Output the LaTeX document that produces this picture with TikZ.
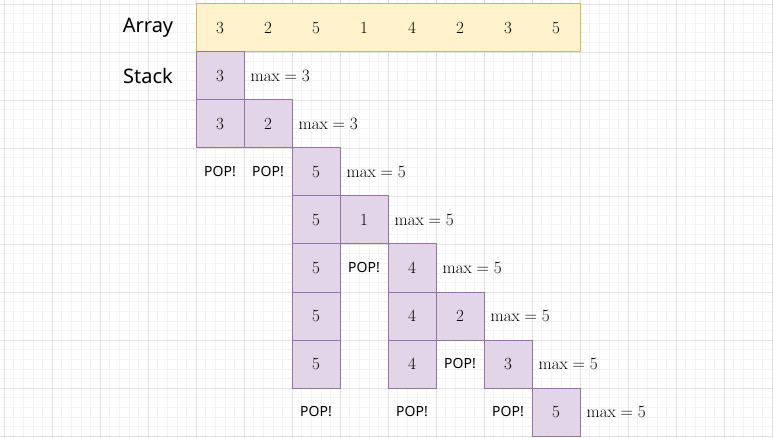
\documentclass[tikz,border=0pt]{standalone}
\usepackage{fontspec}
\newfontfamily\labelfont{Noto Sans}
\definecolor{pfill}{HTML}{E1D5E7}
\definecolor{pdraw}{HTML}{9673A6}
\definecolor{yfill}{HTML}{FFF2CC}
\definecolor{ydraw}{HTML}{D6B656}
\definecolor{gminor}{HTML}{F3F3F3}
\definecolor{gmajor}{HTML}{E2E2E2}
\tikzset{
  cellp/.style={rectangle, draw=pdraw, fill=pfill, line width=1pt, minimum width=48pt, minimum height=48pt, inner sep=0pt, font=\fontsize{17}{20}\selectfont},
  arrbox/.style={rectangle, draw=ydraw, fill=yfill, line width=1pt, minimum width=384pt, minimum height=48pt, inner sep=0pt},
  arrnum/.style={inner sep=0pt, font=\fontsize{17}{20}\selectfont},
  maxlab/.style={anchor=west, inner sep=0pt, xshift=6pt, font=\fontsize{17}{20}\selectfont},
  poplab/.style={inner sep=0pt, font=\labelfont\fontsize{14}{16}\selectfont},
  title/.style={inner sep=0pt, font=\labelfont\fontsize{20}{24}\selectfont}
}
\begin{document}
\begin{tikzpicture}[x=1pt,y=-1pt]
\useasboundingbox (0,0) rectangle (773,438);
\fill[white] (0,0) rectangle (773,438);
\foreach \k in {0,...,80} \draw[gminor, line width=0.6pt] ({4+9.6*\k},0) -- ({4+9.6*\k},438);
\foreach \k in {0,...,45} \draw[gminor, line width=0.6pt] (0,{4+9.6*\k}) -- (773,{4+9.6*\k});
\foreach \k in {0,...,16} \draw[gmajor, line width=0.8pt] ({4+48*\k},0) -- ({4+48*\k},438);
\foreach \k in {0,...,9} \draw[gmajor, line width=0.8pt] (0,{4+48*\k}) -- (773,{4+48*\k});

\node[title] (tarr) at (148,28) {Array};
\node[title] (tstk) at (148,76) {Stack};

\node[arrbox] (arr) at (388,28) {};
\foreach \v [count=\i from 0] in {3,2,5,1,4,2,3,5}
  \node[arrnum] (a\i) at ({220+48*\i},28) {\v};

% row 1
\node[cellp] (r1c0) at (220,76) {3};
\node[maxlab] (m1) at (r1c0.east) {$\mathrm{max}=3$};
% row 2
\node[cellp] (r2c0) at (220,124) {3};
\node[cellp] (r2c1) at (268,124) {2};
\node[maxlab] (m2) at (r2c1.east) {$\mathrm{max}=3$};
% row 3
\node[poplab] (p3a) at (220,172) {POP!};
\node[poplab] (p3b) at (268,172) {POP!};
\node[cellp] (r3c2) at (316,172) {5};
\node[maxlab] (m3) at (r3c2.east) {$\mathrm{max}=5$};
% row 4
\node[cellp] (r4c2) at (316,220) {5};
\node[cellp] (r4c3) at (364,220) {1};
\node[maxlab] (m4) at (r4c3.east) {$\mathrm{max}=5$};
% row 5
\node[cellp] (r5c2) at (316,268) {5};
\node[poplab] (p5) at (364,268) {POP!};
\node[cellp] (r5c4) at (412,268) {4};
\node[maxlab] (m5) at (r5c4.east) {$\mathrm{max}=5$};
% row 6
\node[cellp] (r6c2) at (316,316) {5};
\node[cellp] (r6c4) at (412,316) {4};
\node[cellp] (r6c5) at (460,316) {2};
\node[maxlab] (m6) at (r6c5.east) {$\mathrm{max}=5$};
% row 7
\node[cellp] (r7c2) at (316,364) {5};
\node[cellp] (r7c4) at (412,364) {4};
\node[poplab] (p7) at (460,364) {POP!};
\node[cellp] (r7c6) at (508,364) {3};
\node[maxlab] (m7) at (r7c6.east) {$\mathrm{max}=5$};
% row 8
\node[poplab] (p8a) at (316,412) {POP!};
\node[poplab] (p8b) at (412,412) {POP!};
\node[poplab] (p8c) at (508,412) {POP!};
\node[cellp] (r8c7) at (556,412) {5};
\node[maxlab] (m8) at (r8c7.east) {$\mathrm{max}=5$};
\end{tikzpicture}
\end{document}
